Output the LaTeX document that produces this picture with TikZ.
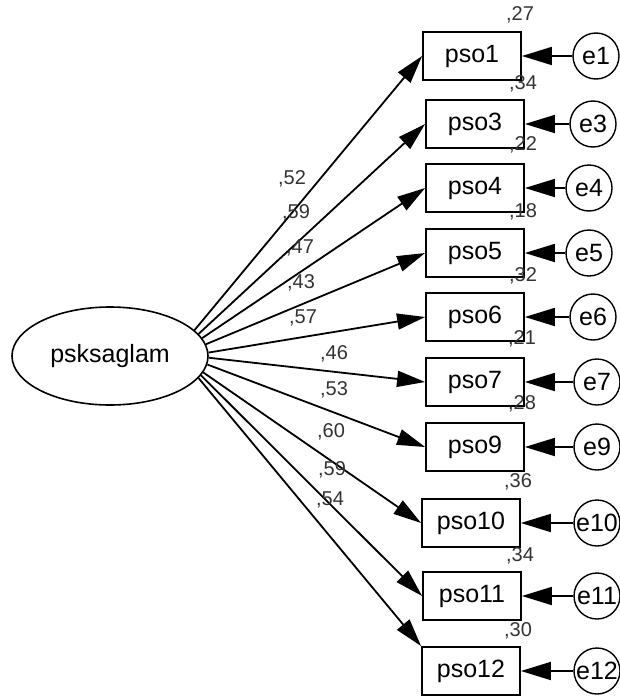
\documentclass[tikz,border=0pt]{standalone}
\usepackage{fontspec}
\setmainfont{Liberation Sans}
\usetikzlibrary{shapes.geometric}
\usetikzlibrary{arrows.meta}

\begin{document}
\begin{tikzpicture}[x=1pt,y=-1pt,
  latent/.style={draw,ellipse,line width=1.6pt,minimum width=196pt,minimum height=98pt,inner sep=0pt,font=\fontsize{25}{30}\selectfont},
  obsbox/.style={draw,rectangle,line width=1.8pt,minimum width=98pt,minimum height=48pt,inner sep=0pt,font=\fontsize{25}{30}\selectfont},
  errc/.style={draw,circle,line width=1.4pt,minimum size=46pt,inner sep=0pt,font=\fontsize{25}{30}\selectfont},
  estim/.style={inner sep=0pt,text=black!80,font=\fontsize{20}{24}\selectfont},
  load/.style={line width=1.8pt,-{Triangle[length=28pt,width=16pt]}},
  resid/.style={line width=1.8pt,-{Triangle[length=30pt,width=18pt]}}]
  \useasboundingbox (0,0) rectangle (620,699);
  % latent factor
  \node[latent] (psk) at (110,356) {psksaglam};
  % indicators
  \node[obsbox] (pso1) at (472,56) {pso1};
  \node[obsbox] (pso3) at (475,124) {pso3};
  \node[obsbox] (pso4) at (475,188) {pso4};
  \node[obsbox] (pso5) at (475,253) {pso5};
  \node[obsbox] (pso6) at (475,317) {pso6};
  \node[obsbox] (pso7) at (475,382) {pso7};
  \node[obsbox] (pso9) at (475,447) {pso9};
  \node[obsbox] (pso10) at (471,523) {pso10};
  \node[obsbox] (pso11) at (472,596) {pso11};
  \node[obsbox] (pso12) at (471,671) {pso12};
  % errors
  \node[errc] (e1) at (596,56) {e1};
  \node[errc] (e3) at (593,124) {e3};
  \node[errc] (e4) at (589,188) {e4};
  \node[errc] (e5) at (589,253) {e5};
  \node[errc] (e6) at (593,317) {e6};
  \node[errc] (e7) at (597,382) {e7};
  \node[errc] (e9) at (597,447) {e9};
  \node[errc] (e10) at (597,523) {e10};
  \node[errc] (e11) at (597,596) {e11};
  \node[errc] (e12) at (597,671) {e12};
  % loadings
  \draw[load] (psk.17) -- (pso1.west);
  \draw[load] (psk.14) -- (pso3.west);
  \draw[load] (psk.11) -- (pso4.west);
  \draw[load] (psk.7) -- (pso5.west);
  \draw[load] (psk.2) -- (pso6.west);
  \draw[load] (psk.-1) -- (pso7.west);
  \draw[load] (psk.-5) -- (pso9.west);
  \draw[load] (psk.-10) -- (pso10.west);
  \draw[load] (psk.-12) -- (pso11.west);
  \draw[load] (psk.-14) -- (pso12.north west);
  \draw[resid] (e1) -- (pso1);
  \draw[resid] (e3) -- (pso3);
  \draw[resid] (e4) -- (pso4);
  \draw[resid] (e5) -- (pso5);
  \draw[resid] (e6) -- (pso6);
  \draw[resid] (e7) -- (pso7);
  \draw[resid] (e9) -- (pso9);
  \draw[resid] (e10) -- (pso10);
  \draw[resid] (e11) -- (pso11);
  \draw[resid] (e12) -- (pso12);
  % standardized estimates
  \node[estim] (l1) at (292,179) {,52};
  \node[estim] (l3) at (296,213) {,59};
  \node[estim] (l4) at (300,248) {,47};
  \node[estim] (l5) at (301,283) {,43};
  \node[estim] (l6) at (303,318) {,57};
  \node[estim] (l7) at (334,354) {,46};
  \node[estim] (l9) at (334,390) {,53};
  \node[estim] (l10) at (331,432) {,60};
  \node[estim] (l11) at (332,470) {,59};
  \node[estim] (l12) at (330,500) {,54};
  % squared multiple correlations
  \node[estim] (r1) at (520,15) {,27};
  \node[estim] (r3) at (523,84) {,34};
  \node[estim] (r4) at (523,145) {,22};
  \node[estim] (r5) at (523,212) {,18};
  \node[estim] (r6) at (523,276) {,32};
  \node[estim] (r7) at (522,339) {,21};
  \node[estim] (r9) at (522,404) {,28};
  \node[estim] (r10) at (518,482) {,36};
  \node[estim] (r11) at (520,556) {,34};
  \node[estim] (r12) at (518,631) {,30};
\end{tikzpicture}
\end{document}
